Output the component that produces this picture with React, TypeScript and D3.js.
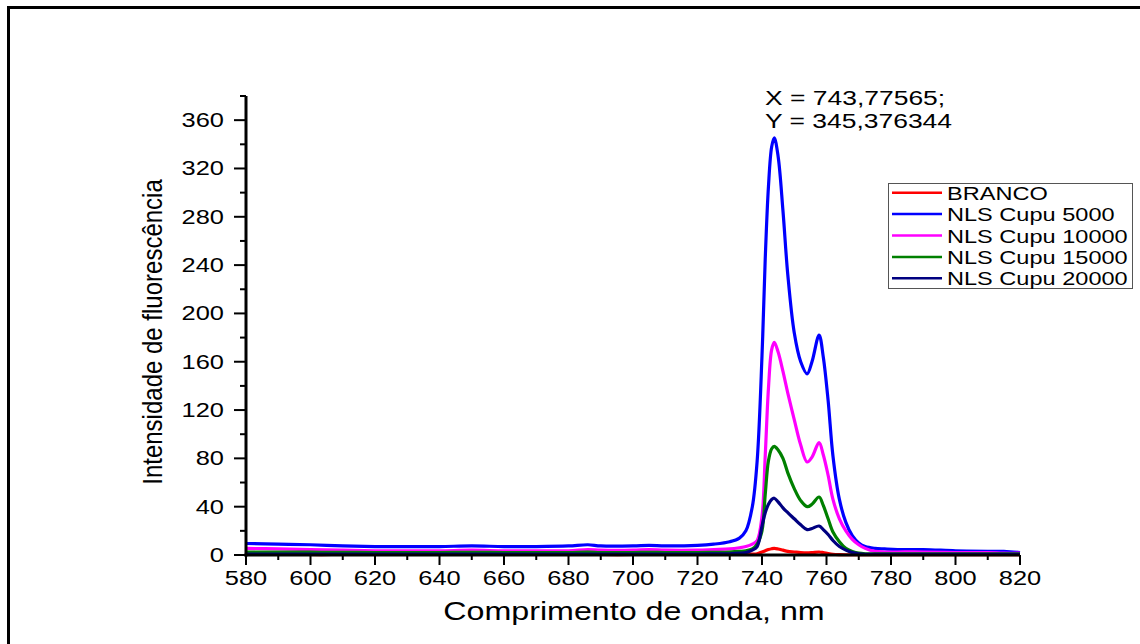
import React from 'react';
import * as d3 from 'd3';

// wavelength sampling (nm) shared by every series
const wavelengths = [
  580, 590, 600, 610, 620, 630, 640, 650, 660, 670, 680, 686, 690, 700, 705, 710, 720, 725, 730, 733,
  735, 737, 738.5, 740, 741, 742, 743, 743.8, 745, 746.5, 748, 750, 752, 754, 755.5, 757.7, 759, 760.5,
  762, 764, 766, 768, 770, 772, 775, 778, 782, 790, 800, 810, 815, 820,
];

const branco = [
  0.5, 0.5, 0.4, 0.4, 0.4, 0.4, 0.4, 0.4, 0.4, 0.4, 0.4, 0.5, 0.4, 0.4, 0.4, 0.4, 0.4, 0.4, 0.4, 0.5,
  0.5, 0.8, 1, 2.5, 3.5, 4.5, 5.2, 5.5, 5, 4, 3, 2.5, 2, 1.8, 2, 2.5, 2, 1.2,
  0.6, 0.3, 0.2, 0.2, 0.2, 0.2, 0.2, 0.2, 0.2, 0.2, 0.2, 0.2, 0.2, 0.2,
];
const cupu5000 = [
  9.5, 9, 8.5, 7.5, 7, 7, 7, 7.5, 7, 7, 7.5, 8.5, 7.5, 7.5, 8, 7.5, 8, 9, 11, 14,
  20, 40, 78, 165, 245, 305, 338, 345.4, 330, 285, 232, 184, 160, 150, 160, 182, 164, 128,
  82, 46, 27, 16, 10, 7, 5.5, 5, 4.5, 4.5, 3.5, 3, 3, 2,
];
const cupu10000 = [
  5.5, 5, 4.5, 4, 3.5, 3.5, 3.5, 4, 3.5, 3.5, 3.5, 4.5, 4, 4, 4.5, 4, 4, 4.5, 5, 6,
  7, 9, 12, 32, 82, 138, 170, 176, 168, 152, 134, 112, 91, 77, 81, 93, 83, 66,
  46, 30, 20, 13, 8.5, 5.5, 3, 2.5, 2.5, 2.5, 2, 2, 1.5, 1.5,
];
const cupu15000 = [
  2.5, 2.4, 2.3, 2.2, 2, 2, 2, 2.2, 2, 2, 2, 2.3, 2, 2, 2.2, 2, 2, 2.2, 2.5, 3,
  3.5, 5, 9, 20, 50, 78, 88, 90, 87, 80, 68, 55, 45, 40, 42, 48, 41, 30,
  19, 11, 5.5, 3, 1.5, 1, 1, 1, 1, 1, 1, 1, 1, 1,
];
const cupu20000 = [
  0.8, 0.8, 0.8, 0.8, 0.8, 0.8, 0.8, 0.8, 0.8, 0.8, 0.8, 0.8, 0.8, 0.8, 0.8, 0.8, 0.8, 0.9, 1, 1.5,
  2, 4, 7, 24, 35, 42, 46, 47, 44, 39, 35, 30, 25, 21, 22, 24, 21, 17,
  12, 7, 4, 2, 1, 0.6, 0.5, 0.5, 0.5, 0.5, 0.5, 0.5, 0.5, 0.5,
];

const seriesNames = ['BRANCO', 'NLS Cupu 5000', 'NLS Cupu 10000', 'NLS Cupu 15000', 'NLS Cupu 20000'];
const seriesColors = ['#ff0000', '#0000ff', '#ff00ff', '#008000', '#000080'];
const seriesValues = [branco, cupu5000, cupu10000, cupu15000, cupu20000];

const xTicks = [580, 600, 620, 640, 660, 680, 700, 720, 740, 760, 780, 800, 820];
const yTicks = [0, 40, 80, 120, 160, 200, 240, 280, 320, 360];

const peakX = '743,77565';
const peakY = '345,376344';

const FONT = '"Liberation Sans", Arial, sans-serif';
const SX = 1.27; // the original picture is stretched horizontally

export default function App() {
  const x = d3.scaleLinear().domain([580, 820]).range([246, 1020]);
  const y = d3.scaleLinear().domain([0, 380]).range([555, 96]);

  const line = d3.line<[number, number]>()
    .x(d => x(d[0]))
    .y(d => y(Math.max(0, d[1])))
    .curve(d3.curveCatmullRom.alpha(0.5));

  const xMinor = d3.range(580, 821, 10);
  const yMinor = d3.range(0, 381, 20);

  const legendX = 888;
  const legendY = 183;
  const rowH = 21.4;

  return (
    <svg width={1140} height={644} style={{ position: 'absolute', left: 0, top: 0, background: '#fff' }}>
      <rect x={8.5} y={7.5} width={1200} height={700} fill="none" stroke="#000" strokeWidth={3} />

      {/* series */}
      {seriesValues.map((vals, i) => (
        <path
          key={seriesNames[i]}
          d={line(wavelengths.map((w, j) => [w, vals[j]] as [number, number])) || ''}
          fill="none"
          stroke={seriesColors[i]}
          strokeWidth={3.2}
          strokeLinejoin="round"
        />
      ))}

      {/* y axis */}
      <line x1={x(580)} x2={x(580)} y1={y(0) + 1.5} y2={y(380)} stroke="#000" strokeWidth={3} />
      {yMinor.map(v => (
        <line key={'ym' + v} x1={x(580) - (v % 40 === 0 ? 12 : 6)} x2={x(580)} y1={y(v)} y2={y(v)} stroke="#000" strokeWidth={2} />
      ))}
      {yTicks.map(v => (
        <text key={'yl' + v} transform={`translate(224,${y(v) + 7}) scale(${SX},1)`} textAnchor="end" fontFamily={FONT} fontSize={20}>
          {v}
        </text>
      ))}

      {/* x axis */}
      <line x1={x(580) - 1.5} x2={x(820)} y1={y(0)} y2={y(0)} stroke="#000" strokeWidth={3} />
      {xMinor.map(v => (
        <line key={'xm' + v} x1={x(v)} x2={x(v)} y1={y(0)} y2={y(0) + (v % 20 === 0 ? 10 : 5)} stroke="#000" strokeWidth={2} />
      ))}
      {xTicks.map(v => (
        <text key={'xl' + v} transform={`translate(${x(v)},585) scale(${SX},1)`} textAnchor="middle" fontFamily={FONT} fontSize={20}>
          {v}
        </text>
      ))}

      {/* axis titles */}
      <text transform={`translate(634,620) scale(1.24,1)`} textAnchor="middle" fontFamily={FONT} fontSize={26}>
        Comprimento de onda, nm
      </text>
      <text transform={`translate(162,332) scale(1.15,1) rotate(-90)`} textAnchor="middle" fontFamily={FONT} fontSize={24}>
        Intensidade de fluorescência
      </text>

      {/* peak annotation */}
      <text transform={`translate(765,105) scale(1.26,1)`} fontFamily={FONT} fontSize={21}>
        {`X = ${peakX};`}
      </text>
      <text transform={`translate(765,128) scale(1.26,1)`} fontFamily={FONT} fontSize={21}>
        {`Y = ${peakY}`}
      </text>

      {/* legend */}
      <rect x={legendX + 0.5} y={legendY + 0.5} width={244} height={105} fill="#fff" stroke="#555" strokeWidth={1} />
      {seriesNames.map((name, i) => {
        const cy = legendY + 9.7 + i * rowH;
        return (
          <g key={'lg' + name}>
            <line x1={legendX + 4} x2={legendX + 54} y1={cy} y2={cy} stroke={seriesColors[i]} strokeWidth={2.5} />
            <text transform={`translate(${legendX + 59},${cy + 7}) scale(1.24,1)`} fontFamily={FONT} fontSize={19}>
              {name}
            </text>
          </g>
        );
      })}
    </svg>
  );
}
